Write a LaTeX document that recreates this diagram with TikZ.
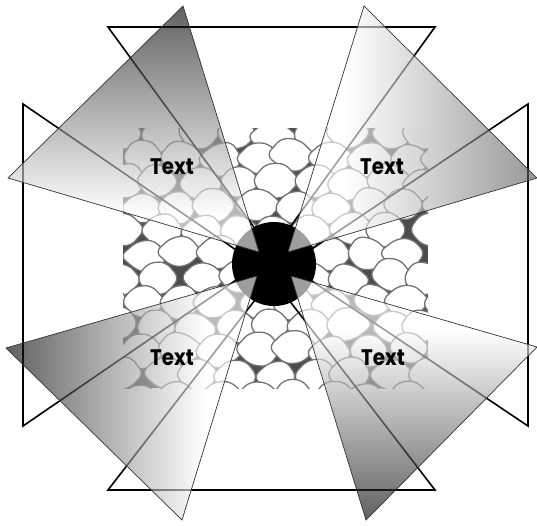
\documentclass[tikz,border=0pt]{standalone}
\usepackage{fontspec}
\newfontfamily\lblfont{Poppins}
\pgfdeclareverticalshading{shTL}{100bp}{color(0bp)=(white); color(32.5bp)=(white); color(75bp)=(black); color(100bp)=(black)}
\pgfdeclarehorizontalshading{shTR}{100bp}{color(0bp)=(white); color(36.4bp)=(white); color(75bp)=(black!65); color(100bp)=(black!65)}
\pgfdeclarehorizontalshading{shBL}{100bp}{color(0bp)=(black); color(25bp)=(black); color(64.6bp)=(white); color(100bp)=(white)}
\pgfdeclareverticalshading{shBR}{100bp}{color(0bp)=(black); color(25bp)=(black); color(63.9bp)=(white); color(100bp)=(white)}
\newcommand{\lbltext}[1]{\scalebox{0.88}[1]{#1}}
\tikzset{
  frametri/.style={draw=black, line width=1.6pt, line join=miter},
  wedge/.style={draw=black!80, line width=0.7pt, fill opacity=0.62},
  stone/.style={fill=white, draw=black!55, line width=1.3pt, rounded corners=7pt},
  lbl/.style={font=\lblfont\bfseries\fontsize{22.5}{22.5}\selectfont, text=black, inner sep=0pt}
}
\begin{document}
\begin{tikzpicture}[x=1pt,y=-1pt]
\useasboundingbox (0,0) rectangle (537,525);
% stone texture
\begin{scope}
\clip (123,128) rectangle (428,388);
\fill[black!70] (123,128) rectangle (428,388);
\pgfmathsetseed{3}
\foreach \r in {0,...,11}{
  \foreach \c in {-1,...,8}{
    \pgfmathsetmacro\cx{123 + \c*38 + mod(\r,2)*19 + 5*rand}
    \pgfmathsetmacro\cy{128 + \r*24 + 6 + 3*rand}
    \pgfmathsetmacro\ra{23 + 3*rand}
    \pgfmathsetmacro\rb{16 + 2*rand}
    \pgfmathsetmacro\rc{16 + 2*rand}
    \pgfmathsetmacro\rd{23 + 3*rand}
    \pgfmathsetmacro\re{16 + 2*rand}
    \pgfmathsetmacro\rf{16 + 2*rand}
    \path[stone] (\cx+\ra,\cy) -- (\cx+0.55*\rb,\cy-\rb) -- (\cx-0.55*\rc,\cy-\rc)
      -- (\cx-\rd,\cy) -- (\cx-0.55*\re,\cy+\re) -- (\cx+0.55*\rf,\cy+\rf) -- cycle;
  }
}
\end{scope}
% outlined triangles
\coordinate (T1) at (108,27);  \coordinate (T2) at (435,27);  \coordinate (Ta) at (272,252);
\coordinate (B1) at (108,490); \coordinate (B2) at (435,490); \coordinate (Ba) at (272,278);
\coordinate (L1) at (23,104);  \coordinate (L2) at (23,426);  \coordinate (La) at (258,265);
\coordinate (R1) at (528,104); \coordinate (R2) at (528,426); \coordinate (Ra) at (288,265);
\draw[frametri] (T1) -- (T2) -- (Ta) -- cycle;
\draw[frametri] (B1) -- (B2) -- (Ba) -- cycle;
\draw[frametri] (L1) -- (L2) -- (La) -- cycle;
\draw[frametri] (R1) -- (R2) -- (Ra) -- cycle;
% central disc
\coordinate (O) at (274,264);
\fill[black] (O) circle (42);
% shaded wedges
\coordinate (TLa) at (8,178);   \coordinate (TLb) at (183,6);   \coordinate (TLc) at (259,252);
\coordinate (TRa) at (364,6);   \coordinate (TRb) at (537,178); \coordinate (TRc) at (288,252);
\coordinate (BLa) at (6,348);   \coordinate (BLb) at (182,520); \coordinate (BLc) at (257,276);
\coordinate (BRa) at (537,347); \coordinate (BRb) at (366,520); \coordinate (BRc) at (291,276);
\path[wedge, shade, shading=shTL] (TLa) -- (TLb) -- (TLc) -- cycle;
\path[wedge, shade, shading=shTR] (TRa) -- (TRb) -- (TRc) -- cycle;
\path[wedge, shade, shading=shBL] (BLa) -- (BLb) -- (BLc) -- cycle;
\path[wedge, shade, shading=shBR] (BRa) -- (BRb) -- (BRc) -- cycle;
% labels
\node[lbl] (t1) at (172,167) {\lbltext{Text}};
\node[lbl] (t2) at (382,167) {\lbltext{Text}};
\node[lbl] (t3) at (172,358) {\lbltext{Text}};
\node[lbl] (t4) at (383,358) {\lbltext{Text}};
\end{tikzpicture}
\end{document}
